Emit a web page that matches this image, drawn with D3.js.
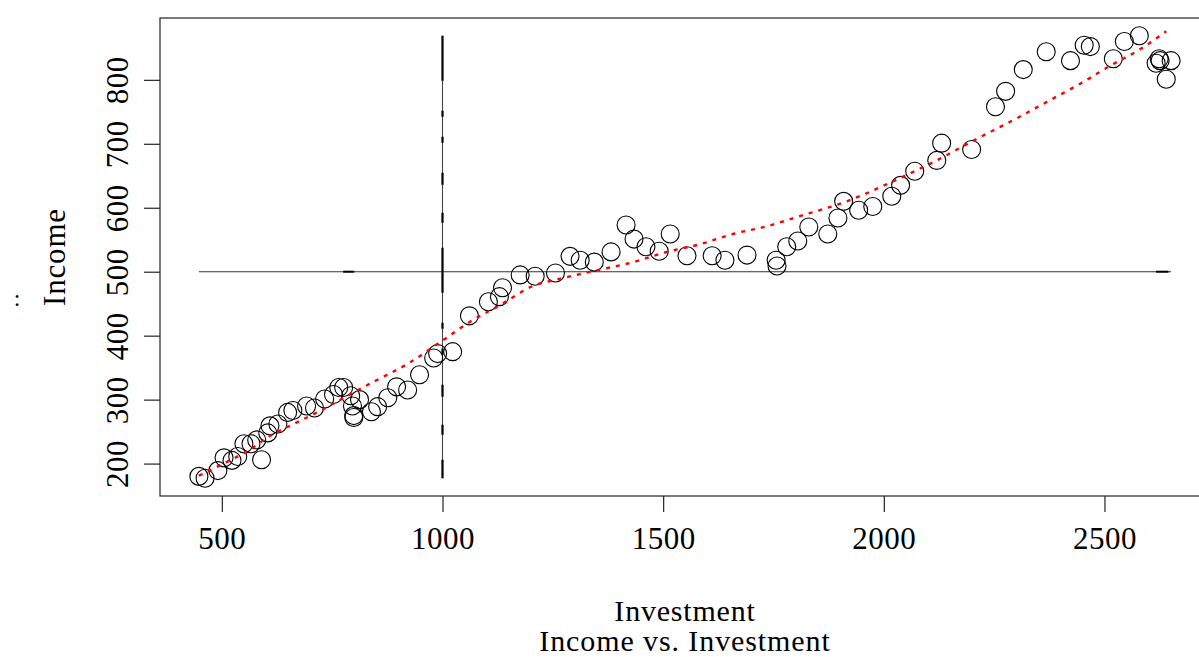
<!DOCTYPE html>
<html>
<head>
<meta charset="utf-8">
<script src="https://cdn.jsdelivr.net/npm/d3@7"></script>
<style>
  html, body { margin: 0; padding: 0; background: #fff; }
  svg text { font-family: "Liberation Serif", "Times New Roman", serif; fill: #000; }
</style>
</head>
<body>
<svg id="chart" width="1199" height="657"></svg>
<script>
// Observations: investment (x) and income (y)
const investment = [448, 462, 491, 505, 523, 536, 550, 566, 579, 590, 604, 609, 627, 649, 661, 692, 710, 733, 753, 765,
  776, 792, 796, 799, 799, 812, 839, 853, 876, 896, 921, 948, 980, 989, 1023, 1061, 1104, 1129, 1136, 1176,
  1210, 1256, 1289, 1312, 1344, 1382, 1416, 1434, 1461, 1491, 1516, 1554, 1611, 1640, 1690, 1756, 1758, 1780, 1805, 1830,
  1873, 1896, 1909, 1943, 1975, 2018, 2038, 2070, 2120, 2131, 2199, 2253, 2276, 2316, 2368, 2423, 2454, 2468, 2520, 2545,
  2579, 2617, 2624, 2626, 2651, 2640];
const income = [180, 177, 189, 209, 205, 211, 231, 231, 237, 206, 248, 259, 262, 280, 283, 290, 287, 301, 308, 319,
  319, 306, 290, 275, 272, 300, 281, 289, 303, 320, 315, 339, 365, 372, 375, 431, 453, 461, 475, 495,
  493, 498, 524, 518, 515, 531, 573, 551, 539, 532, 559, 525, 525, 518, 526, 518, 509, 539, 548, 570,
  559, 584, 610, 596, 602, 618, 635, 657, 674, 701, 691, 758, 782, 816, 844, 830, 854, 852, 833, 860,
  869, 826, 833, 830, 830, 801];

// Smoothed trend (red dotted curve)
const fitX = [448, 498, 559, 611, 663, 724, 785, 844, 921, 995, 1063, 1131, 1206, 1267, 1342, 1432, 1509, 1584,
  1658, 1735, 1810, 1916, 2020, 2111, 2217, 2285, 2368, 2450, 2518, 2579, 2640];
const fitY = [181, 198, 220, 244, 262, 283, 306, 328, 356, 390, 422, 448, 478, 489, 501, 515, 531, 543,
  559, 571, 587, 610, 641, 671, 710, 734, 765, 796, 824, 847, 876];

// Reference lines
const refInvestment = 1000;
const refIncome = 500;

const xTicks = [500, 1000, 1500, 2000, 2500];
const yTicks = [200, 300, 400, 500, 600, 700, 800];

const title = "Income vs. Investment";
const xLabel = "Investment";
const yLabel = "Income";

const svg = d3.select("#chart");
const plot = { left: 160, right: 1210, top: 18, bottom: 496 };

// 4% padding around the data range on both axes
function padded(values) {
  const [lo, hi] = d3.extent(values);
  const p = (hi - lo) * 0.04;
  return [lo - p, hi + p];
}
const xExt = d3.extent(investment);
const yExt = d3.extent(income);
const x = d3.scaleLinear().domain(padded(investment)).range([plot.left, plot.right]);
const y = d3.scaleLinear().domain(padded(income)).range([plot.bottom, plot.top]);

// Plot frame
svg.append("rect")
  .attr("x", plot.left).attr("y", plot.top)
  .attr("width", plot.right - plot.left).attr("height", plot.bottom - plot.top)
  .attr("fill", "none").attr("stroke", "#222").attr("stroke-width", 1.2);

// X axis
const xAxis = svg.append("g")
  .attr("transform", `translate(0,${plot.bottom})`)
  .call(d3.axisBottom(x).tickValues(xTicks).tickSize(16).tickSizeOuter(0).tickPadding(12).tickFormat(d3.format("d")));
xAxis.select(".domain").remove();
xAxis.selectAll("line").attr("stroke", "#222").attr("stroke-width", 1.2);
xAxis.selectAll("text").attr("font-size", 31).attr("font-family", "Liberation Serif").attr("fill", "#000")
  .attr("letter-spacing", "0.5px").attr("dy", "0.82em");

// Y axis (labels rotated, reading upward)
const yAxis = svg.append("g")
  .attr("transform", `translate(${plot.left},0)`)
  .call(d3.axisLeft(y).tickValues(yTicks).tickSize(16).tickSizeOuter(0).tickFormat(d3.format("d")));
yAxis.select(".domain").remove();
yAxis.selectAll("line").attr("stroke", "#222").attr("stroke-width", 1.2);
yAxis.selectAll("text")
  .attr("x", null).attr("dy", null)
  .attr("transform", "translate(-32,0) rotate(-90)")
  .attr("text-anchor", "middle")
  .attr("font-size", 31).attr("font-family", "Liberation Serif").attr("fill", "#000")
  .attr("letter-spacing", "0.5px");

// Horizontal reference line across the investment range
svg.append("line")
  .attr("x1", x(xExt[0])).attr("x2", x(xExt[1]))
  .attr("y1", y(refIncome)).attr("y2", y(refIncome))
  .attr("stroke", "#333").attr("stroke-width", 1.1);
[[775, 800], [2617, 2645]].forEach(([a, b]) => {
  svg.append("line")
    .attr("x1", x(a)).attr("x2", x(b))
    .attr("y1", y(refIncome)).attr("y2", y(refIncome))
    .attr("stroke", "#000").attr("stroke-width", 2);
});

// Vertical reference line across the income range
svg.append("line")
  .attr("x1", x(refInvestment)).attr("x2", x(refInvestment))
  .attr("y1", y(yExt[1])).attr("y2", y(yExt[0]))
  .attr("stroke", "#444").attr("stroke-width", 1.1);
svg.append("line")
  .attr("x1", x(refInvestment)).attr("x2", x(refInvestment))
  .attr("y1", y(yExt[1])).attr("y2", y(yExt[0]))
  .attr("stroke", "#000").attr("stroke-width", 2.2)
  .attr("stroke-dasharray", "45,30,6,20,6,30,12,28,10,25");

// Data points as open circles
svg.append("g").selectAll("circle")
  .data(investment.map((v, i) => [v, income[i]]))
  .join("circle")
  .attr("cx", d => x(d[0])).attr("cy", d => y(d[1]))
  .attr("r", 9)
  .attr("fill", "none").attr("stroke", "#000").attr("stroke-width", 1.1);

// Smooth trend curve
const trend = d3.line().x(d => x(d[0])).y(d => y(d[1])).curve(d3.curveMonotoneX);
svg.append("path")
  .datum(fitX.map((v, i) => [v, fitY[i]]))
  .attr("d", trend)
  .attr("fill", "none").attr("stroke", "#ff0000").attr("stroke-width", 2.4)
  .attr("stroke-dasharray", "4,6");

// Axis titles and main title
const cx = (plot.left + plot.right) / 2;
const cy = (plot.top + plot.bottom) / 2;
svg.append("text").attr("x", cx).attr("y", 621).attr("text-anchor", "middle")
  .attr("font-size", 30).attr("letter-spacing", "0.8px").text(xLabel);
svg.append("text").attr("x", cx).attr("y", 651).attr("text-anchor", "middle")
  .attr("font-size", 30).attr("letter-spacing", "0.9px").text(title);
svg.append("text").attr("transform", `translate(65,${cy}) rotate(-90)`).attr("text-anchor", "middle")
  .attr("font-size", 31).attr("letter-spacing", "0.8px").text(yLabel);
svg.append("text").attr("x", 17).attr("y", 306).attr("text-anchor", "middle")
  .attr("font-size", 24).text(":");
</script>
</body>
</html>
